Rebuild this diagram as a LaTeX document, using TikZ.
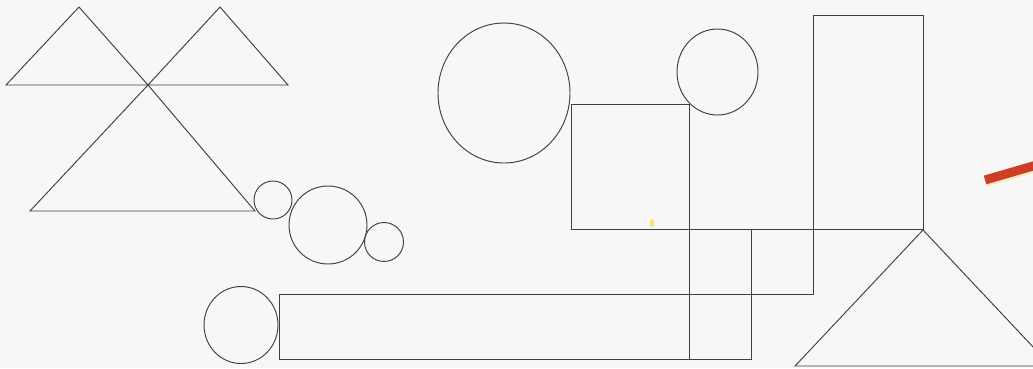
\documentclass[tikz,border=0pt]{standalone}
\begin{document}
\begin{tikzpicture}[x=1pt,y=-1pt,
  shape line/.style={draw=black!75, line width=0.95pt, line join=miter},
  pencil/.style={line width=9pt, draw={rgb,255:red,205;green,62;blue,38}}]
\useasboundingbox (0,0) rectangle (1033,368);
\fill[black!3] (0,0) rectangle (1033,368);
\begin{scope}
\clip (0,0) rectangle (1033,368);
% top-left triangles
\coordinate (X) at (148,85);
\draw[shape line] (6,85) -- (79,7) -- (X) -- cycle;
\draw[shape line] (X) -- (220,7) -- (288,85) -- (X);
\draw[shape line] (X) -- (30,211) -- (255,211) -- cycle;
% chain of circles
\draw[shape line] (273,200) circle (19);
\draw[shape line] (328,225) circle (39);
\draw[shape line] (384,242) circle (19.5);
% bottom-left circle
\draw[shape line] (241,325) ellipse (37 and 38.5);
% top ellipses
\draw[shape line] (504,93) ellipse (66 and 70);
\draw[shape line] (717.5,72) ellipse (40.5 and 43);
% rectangles
\draw[shape line] (571,229) -- (571,104) -- (689,104) -- (689,359);
\draw[shape line] (571,229) -- (923,229) -- (923,15) -- (813,15) -- (813,294) -- (279,294) -- (279,359) -- (751,359) -- (751,229);
% bottom-right triangle
\draw[shape line] (795,366) -- (923,230) -- (1051,366) -- cycle;
% pencil marks
\draw[line width=9pt, draw=yellow!40!orange!25] (986,182) -- (1040,166.5);
\draw[pencil] (985,180) -- (1040,164);
\fill[yellow!70!orange!60] (652,223) ellipse (2.2 and 4);
\end{scope}
\end{tikzpicture}
\end{document}
